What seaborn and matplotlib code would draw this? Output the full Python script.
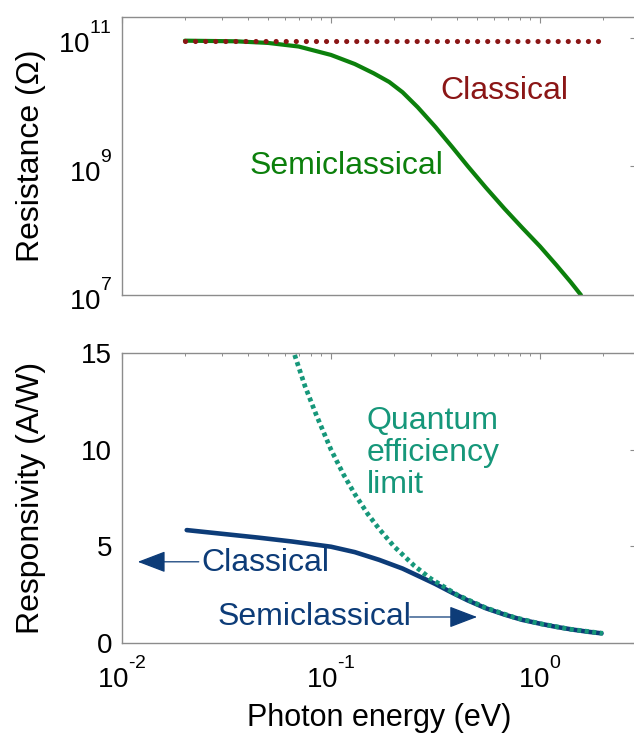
import numpy as np
import matplotlib
matplotlib.use("Agg")
import matplotlib.pyplot as plt
import seaborn as sns

# ---- data -------------------------------------------------------------
# Resistance vs photon energy
energy_res = [0.02, 0.035, 0.05, 0.07, 0.1, 0.13, 0.16, 0.19, 0.22, 0.26, 0.316, 0.38,
              0.452, 0.55, 0.676, 0.82, 1.0, 1.2, 1.4, 1.57]
r_semiclassical = [9.0e10, 8.8e10, 8.3e10, 7.3e10, 5.4e10, 3.9e10, 2.8e10, 2.05e10,
                   1.42e10, 8.3e9, 4.1e9, 2.0e9, 1.0e9, 4.7e8, 2.2e8, 1.12e8, 5.7e7,
                   2.9e7, 1.6e7, 1.0e7]
energy_classical = [0.02, 2.0]
r_classical = [9.0e10, 9.0e10]

# Responsivity vs photon energy
energy_resp = [0.0204, 0.03, 0.045, 0.065, 0.1, 0.13, 0.17, 0.22, 0.27, 0.316, 0.38,
               0.452, 0.55, 0.676, 0.82, 1.0, 1.2, 1.44, 1.7, 1.97]
resp_semiclassical = [5.84, 5.65, 5.45, 5.25, 4.98, 4.7, 4.3, 3.85, 3.4, 3.05, 2.6,
                      2.2, 1.8, 1.47, 1.2, 1.0, 0.83, 0.69, 0.58, 0.5]
energy_qe = [0.067, 0.075, 0.085, 0.1, 0.115, 0.13, 0.15, 0.17, 0.2, 0.25, 0.3, 0.4,
             0.55, 0.75, 1.0, 1.4, 2.0]
resp_qe = [14.9, 13.3, 11.8, 10.0, 8.7, 7.7, 6.67, 5.9, 5.0, 4.0, 3.33, 2.5,
           1.82, 1.33, 1.0, 0.71, 0.5]

x_ticks = [1e-2, 1e-1, 1e0]
x_ticklabels = ["$10^{‐2}$", "$10^{‐1}$", "$10^{0}$"]
res_ticks = [1e7, 1e9, 1e11]
res_ticklabels = [r"$10^{7}$", r"$10^{9}$", r"$10^{11}$"]
resp_ticks = [0, 5, 10, 15]

# ---- style ------------------------------------------------------------
sns.set_theme(style="white")
plt.rcParams["font.family"] = ["Liberation Sans", "DejaVu Sans"]
plt.rcParams["mathtext.fontset"] = "custom"
plt.rcParams["mathtext.rm"] = "Liberation Sans"
plt.rcParams["mathtext.it"] = "Liberation Sans:italic"
plt.rcParams["mathtext.default"] = "regular"
plt.rcParams["axes.labelcolor"] = "black"
# raise exponents a bit higher above the digits
try:
    import matplotlib._mathtext as _mt
    _mt.FontConstantsBase.sup1 = 1.3
except Exception:
    pass

DARK_RED = "#8b1616"
GREEN = "#0c800c"
NAVY = "#0d3c78"
TEAL = "#16977a"
SPINE = "#8c8c8c"

W, H = 634, 735
X_MIN, X_MAX = 1e-2, 2.88
DECADE_PX = 209
LEFT_PX = 122
ax_w = (np.log10(X_MAX) - np.log10(X_MIN)) * DECADE_PX

fig = plt.figure(figsize=(W / 100, H / 100), dpi=100)
ax1 = fig.add_axes([LEFT_PX / W, 1 - 295 / H, ax_w / W, 278 / H])
ax2 = fig.add_axes([LEFT_PX / W, 1 - 643 / H, ax_w / W, 290 / H])

# ---- top panel: resistance -------------------------------------------
sns.lineplot(x=energy_res, y=r_semiclassical, ax=ax1, color=GREEN,
             linewidth=3.0, legend=False)
sns.lineplot(x=energy_classical, y=r_classical, ax=ax1, color=DARK_RED,
             linewidth=3.7, legend=False)
dotted = ax1.lines[-1]
dotted.set_dashes((0.01, 1.95))
dotted.set_dash_capstyle("round")

ax1.set_xscale("log")
ax1.set_yscale("log")
ax1.set_xlim(X_MIN, X_MAX)
ax1.set_ylim(1e7, 2.1e11)
ax1.set_yticks(res_ticks)
ax1.set_yticklabels(res_ticklabels)
ax1.yaxis.set_minor_locator(matplotlib.ticker.NullLocator())
ax1.set_xticks(x_ticks)
ax1.tick_params(axis="x", labelbottom=False)
ax1.set_ylabel("Resistance (Ω)", fontsize=23, color="black")

ax1.text(0.333, 1.5e10, "Classical", color=DARK_RED, fontsize=23,
         ha="left", va="center")
ax1.text(0.0408, 1.02e9, "Semiclassical", color=GREEN, fontsize=23,
         ha="left", va="center")

# ---- bottom panel: responsivity --------------------------------------
sns.lineplot(x=energy_resp, y=resp_semiclassical, ax=ax2, color=NAVY,
             linewidth=3.3, legend=False)
sns.lineplot(x=energy_qe, y=resp_qe, ax=ax2, color=TEAL,
             linewidth=3.4, legend=False)
qe_line = ax2.lines[-1]
qe_line.set_dashes((0.85, 0.75))

ax2.set_xscale("log")
ax2.set_xlim(X_MIN, X_MAX)
ax2.set_ylim(0, 15)
ax2.set_yticks(resp_ticks)
ax2.set_xticks(x_ticks)
ax2.set_xticklabels(x_ticklabels)
ax2.set_ylabel("Responsivity (A/W)", fontsize=23, color="black")
ax2.set_xlabel("Photon energy (eV)", fontsize=22, labelpad=6, color="black")

ax2.text(0.1486, 9.83, "Quantum\nefficiency\nlimit", color=TEAL, fontsize=23,
         ha="left", va="center", linespacing=1.08)
ax2.text(0.0239, 4.14, "Classical", color=NAVY, fontsize=23,
         ha="left", va="center")
ax2.text(0.0285, 1.345, "Semiclassical", color=NAVY, fontsize=23,
         ha="left", va="center")

arrow_kw = dict(arrowstyle="-|>,head_length=1.1,head_width=0.42",
                mutation_scale=16, color=NAVY, lw=0.9, shrinkA=0, shrinkB=0)
ax2.annotate("", xy=(0.0119, 4.2), xytext=(0.0233, 4.2), arrowprops=arrow_kw)
ax2.annotate("", xy=(0.50, 1.345), xytext=(0.238, 1.345), arrowprops=arrow_kw)

# ---- axes cosmetics ---------------------------------------------------
for ax in (ax1, ax2):
    for side in ax.spines.values():
        side.set_color(SPINE)
        side.set_linewidth(1.0)
    ax.tick_params(which="both", direction="in", top=True, right=True,
                   color=SPINE, labelsize=20, labelcolor="black")
    ax.tick_params(which="major", length=4.5, width=0.8, pad=7)
    ax.tick_params(which="minor", length=2.5, width=0.7)
    ax.xaxis.set_minor_locator(matplotlib.ticker.LogLocator(base=10, subs=np.arange(2, 10)))
    ax.xaxis.set_minor_formatter(matplotlib.ticker.NullFormatter())
    ax.yaxis.set_label_coords(-0.148, 0.5)

ax2.tick_params(axis="x", which="major", pad=10.5)

fig.savefig("out.png", dpi=100)
